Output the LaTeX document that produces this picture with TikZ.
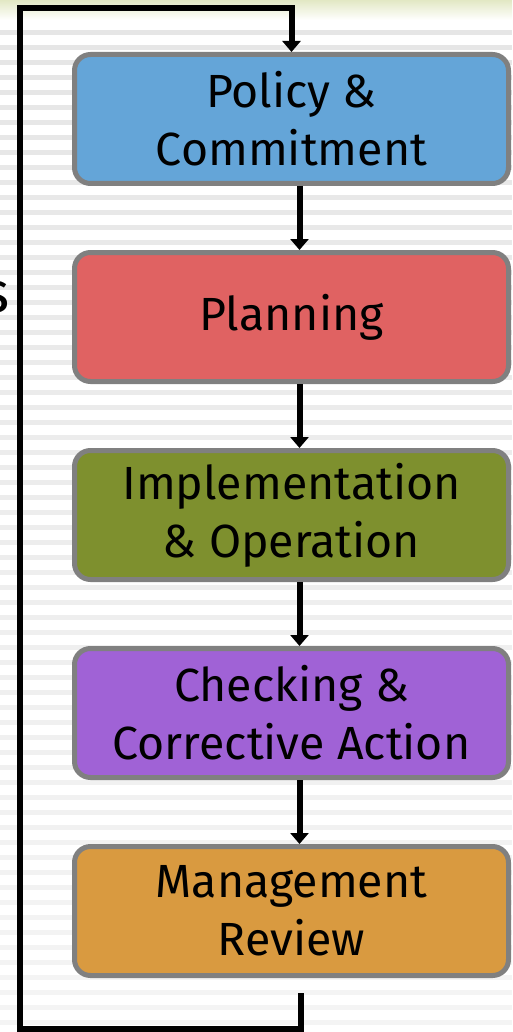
\documentclass[tikz,border=0pt]{standalone}
\usepackage{fontspec}
\setmainfont{Fira Sans}
\usetikzlibrary{arrows.meta,positioning}
\definecolor{policyblue}{HTML}{64A5D8}
\definecolor{planred}{HTML}{E06262}
\definecolor{implgreen}{HTML}{7E902E}
\definecolor{checkpurple}{HTML}{A062D6}
\definecolor{revieworange}{HTML}{D99A40}
\definecolor{boxgray}{HTML}{808080}
\definecolor{stripe}{HTML}{E6E6E6}
\definecolor{topgreen}{HTML}{E2E8C4}
\tikzset{
  stage/.style={draw=boxgray, line width=5pt, rounded corners=16pt,
    minimum width=434pt, minimum height=129pt, align=center, inner sep=0pt,
    font=\fontsize{46.5}{58}\selectfont},
  flow/.style={line width=6pt, -{Triangle[width=18pt,length=11pt]}},
}
\begin{document}
\begin{tikzpicture}[x=1pt,y=1pt]
  \useasboundingbox (0,0) rectangle (512,-1032);
  %Background
  \fill[white] (0,0) rectangle (512,-1032);
  \shade[top color=topgreen,bottom color=white] (0,0) rectangle (512,-20);
  \foreach \k [evaluate=\k as \op using 1-0.009*\k] in {0,...,66}
    \fill[stripe, fill opacity=\op] (0,-30-15*\k) rectangle (512,-35-15*\k);
  %Stages
  \node[stage, fill=policyblue] (policy) at (291.5,-119) {Policy \&\\Commitment};
  \node[stage, fill=planred] (plan) at (291.5,-317) {Planning};
  \node[stage, fill=implgreen] (impl) at (291.5,-515) {Implementation\\\& Operation};
  \node[stage, fill=checkpurple] (check) at (291.5,-713) {Checking \&\\Corrective Action};
  \node[stage, fill=revieworange] (review) at (291.5,-911) {Management\\Review};
  %Arrows between the stages
  \foreach \a/\b in {policy/plan,plan/impl,impl/check,check/review}
    \draw[flow] ([xshift=8pt]\a.south) -- ([xshift=8pt]\b.north);
  %Feedback loop
  \coordinate (fbstart) at ([xshift=9.5pt,yshift=-15pt]review.south);
  \coordinate (lowleft) at (20,-1029);
  \coordinate (upleft) at (20,-8);
  \draw[flow] (fbstart) |- (lowleft) -- (upleft) -| (policy.north);
  %Cut title
  \node[anchor=east, inner sep=0pt, font=\fontsize{58}{58}\selectfont] (titlecut) at (10,-297) {s};
\end{tikzpicture}
\end{document}
